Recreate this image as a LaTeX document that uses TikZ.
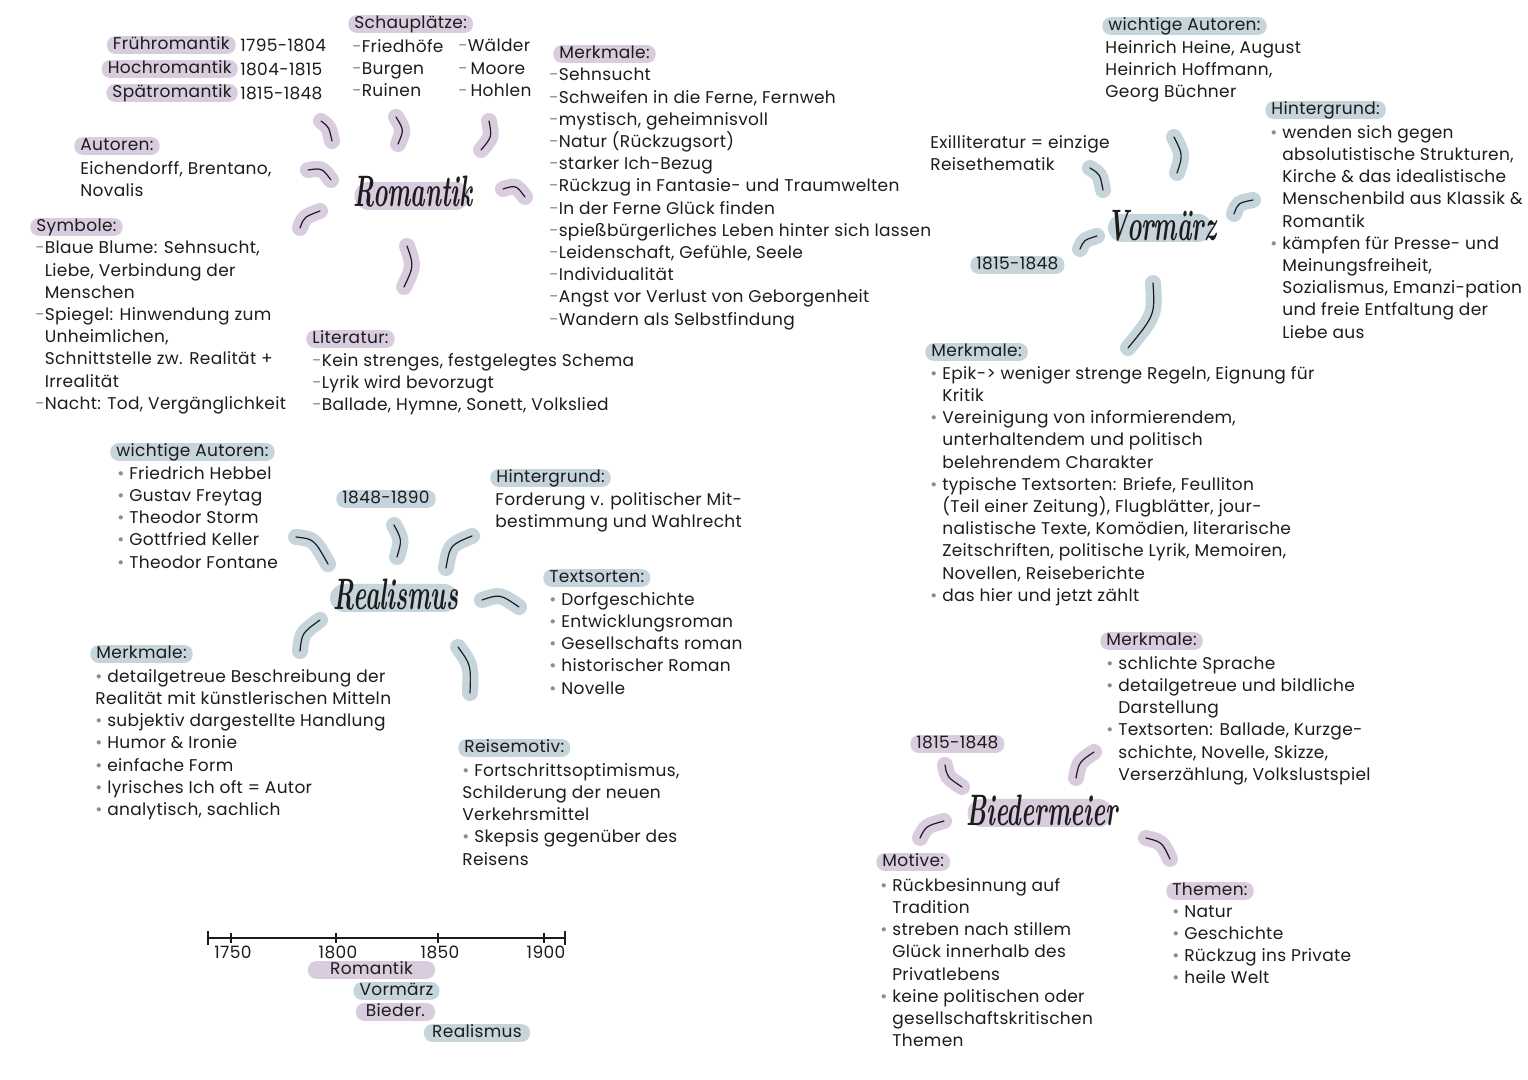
\documentclass[tikz,border=0pt]{standalone}
\usepackage{fontspec}
\usepackage{graphicx}
\usepackage{tikz}
\usetikzlibrary{positioning, calc}

\newfontfamily\hand{Poppins}[LetterSpace=2]
\definecolor{rpurple}{RGB}{218,204,223}
\definecolor{rblue}{RGB}{198,212,219}
\definecolor{ink}{RGB}{28,28,28}
\definecolor{bul}{RGB}{140,140,140}

\newcommand{\hfs}{\hand\fontsize{8.5}{11.1}\selectfont}
\newcommand{\dsh}{{\color{bul}-}}
\newcommand{\bp}{{\color{bul}\textbullet}\ }
\newcommand{\din}{\phantom{-}}
\newcommand{\bin}{\phantom{\textbullet\ }}
\newcommand{\epoch}[1]{\scalebox{0.56}[1]{\bfseries\itshape\fontsize{22}{22}\selectfont #1}}

\begin{document}
\begin{tikzpicture}[
    x=0.5pt, y=-0.5pt,
    txt/.style={
        font=\hfs,
        text=ink,
        inner sep=0pt,
        align=left,
        anchor=north west
    },
    labP/.style={
        fill=rpurple,
        rounded corners=4pt,
        font=\hfs,
        text=ink,
        inner xsep=3pt,
        inner ysep=0.5pt,
        text height=6.2pt,
        text depth=1.6pt,
        anchor=west
    },
    labB/.style={labP, fill=rblue},
    ttl/.style={text=ink, inner sep=0pt},
    pill/.style={fill=#1, rounded corners=7pt, inner sep=0pt, minimum height=14pt},
    spoke/.style={
        draw=ink,
        line width=0.6pt,
        line cap=round,
        preaction={draw=#1, line width=8pt, line cap=round}
    }
]
\useasboundingbox[fill=white] (0,0) rectangle (1528,1080);

% ---------- Romantik
\node[pill=rpurple, minimum width=57.5pt] (rompill) at (412,196) {};
\node[ttl] (rom) at (413,192) {\epoch{Romantik}};

\node[labP, anchor=east] (fruh) at (236,45) {Frühromantik};
\node[labP, anchor=east] (hoch) at (238,69) {Hochromantik};
\node[labP, anchor=east] (spaet) at (238,93) {Spätromantik};
\node[txt, anchor=west] (fruhj) at (240,45) {1795-1804};
\node[txt, anchor=west] (hochj) at (240,69) {1804-1815};
\node[txt, anchor=west] (spaetj) at (240,93) {1815-1848};

\node[labP] (schau) at (348,24) {Schauplätze:};
\node[txt] (schau1) at (352,39) {\dsh Friedhöfe\\\dsh Burgen\\\dsh Ruinen};
\node[txt] (schau2) at (458,39) {\dsh Wälder\\\dsh\,Moore\\\dsh\,Hohlen};

\node[labP] (rmerk) at (553,54) {Merkmale:};
\node[txt] (rmerkl) at (549,68) {\dsh Sehnsucht\\
    \dsh Schweifen in die Ferne, Fernweh\\
    \dsh mystisch, geheimnisvoll\\
    \dsh Natur (Rückzugsort)\\
    \dsh starker Ich-Bezug\\
    \dsh Rückzug in Fantasie- und Traumwelten\\
    \dsh In der Ferne Glück finden\\
    \dsh spießbürgerliches Leben hinter sich lassen\\
    \dsh Leidenschaft, Gefühle, Seele\\
    \dsh Individualität\\
    \dsh Angst vor Verlust von Geborgenheit\\
    \dsh Wandern als Selbstfindung};

\node[labP] (raut) at (74,146) {Autoren:};
\node[txt] (rautl) at (80,161) {Eichendorff, Brentano,\\Novalis};

\node[labP] (symb) at (30,227) {Symbole:};
\node[txt] (symbl) at (35,241) {\dsh Blaue Blume: Sehnsucht,\\
    \din Liebe, Verbindung der\\
    \din Menschen\\
    \dsh Spiegel: Hinwendung zum\\
    \din Unheimlichen,\\
    \din Schnittstelle zw. Realität +\\
    \din Irrealität\\
    \dsh Nacht: Tod, Vergänglichkeit};

\node[labP] (lit) at (306,339) {Literatur:};
\node[txt] (litl) at (312,353) {\dsh Kein strenges, festgelegtes Schema\\
    \dsh Lyrik wird bevorzugt\\
    \dsh Ballade, Hymne, Sonett, Volkslied};

\draw[spoke=rpurple] (321,121) .. controls (329,127) .. (332,141);
\draw[spoke=rpurple] (396,117) .. controls (404,130) .. (398,144);
\draw[spoke=rpurple] (489,121) .. controls (492,137) .. (481,150);
\draw[spoke=rpurple] (308,170) .. controls (322,168) .. (331,180);
\draw[spoke=rpurple] (300,228) .. controls (304,217) .. (320,211);
\draw[spoke=rpurple] (503,189) .. controls (516,185) .. (525,197);
\draw[spoke=rpurple] (407,246) .. controls (414,266) .. (404,287);

% ---------- Vormaerz
\node[pill=rblue, minimum width=52pt] (vorpill) at (1160,228) {};
\node[ttl] (vor) at (1162,226) {\epoch{Vormärz}};

\node[labB] (vaut) at (1102,26) {wichtige Autoren:};
\node[txt] (vautl) at (1105,40) {Heinrich Heine, August\\Heinrich Hoffmann,\\Georg Büchner};

\node[labB] (vhint) at (1265,110) {Hintergrund:};
\node[txt] (vhintl) at (1270,125) {\bp wenden sich gegen\\
    \bin absolutistische Strukturen,\\
    \bin Kirche \& das idealistische\\
    \bin Menschenbild aus Klassik \&\\
    \bin Romantik\\
    \bp kämpfen für Presse- und\\
    \bin Meinungsfreiheit,\\
    \bin Sozialismus, Emanzi-pation\\
    \bin und freie Entfaltung der\\
    \bin Liebe aus};

\node[txt] (exil) at (930,135) {Exilliteratur = einzige\\Reisethematik};
\node[labB] (vjahr) at (970,265) {1815-1848};

\node[labB] (vmerk) at (925,352) {Merkmale:};
\node[txt] (vmerkl) at (930,366) {\bp Epik-> weniger strenge Regeln, Eignung für\\
    \bin Kritik\\
    \bp Vereinigung von informierendem,\\
    \bin unterhaltendem und politisch\\
    \bin belehrendem Charakter\\
    \bp typische Textsorten: Briefe, Feulliton\\
    \bin (Teil einer Zeitung), Flugblätter, jour-\\
    \bin nalistische Texte, Komödien, literarische\\
    \bin Zeitschriften, politische Lyrik, Memoiren,\\
    \bin Novellen, Reiseberichte\\
    \bp das hier und jetzt zählt};

\draw[spoke=rblue] (1090,168) .. controls (1100,174) .. (1103,190);
\draw[spoke=rblue] (1174,137) .. controls (1183,155) .. (1177,173);
\draw[spoke=rblue] (1234,214) .. controls (1238,203) .. (1253,200);
\draw[spoke=rblue] (1080,249) .. controls (1084,240) .. (1097,236);
\draw[spoke=rblue] (1153,283) .. controls (1155,315) .. (1128,348);

% ---------- Realismus
\node[pill=rblue, minimum width=64pt] (realpill) at (394,598) {};
\node[ttl] (real) at (396,595) {\epoch{Realismus}};

\node[labB] (raut2) at (110,452) {wichtige Autoren:};
\node[txt] (raut2l) at (117,466) {\bp Friedrich Hebbel\\
    \bp Gustav Freytag\\
    \bp Theodor Storm\\
    \bp Gottfried Keller\\
    \bp Theodor Fontane};

\node[labB] (rjahr) at (336,499) {1848-1890};

\node[labB] (rhint) at (490,478) {Hintergrund:};
\node[txt] (rhintl) at (495,492) {Forderung v. politischer Mit-\\bestimmung und Wahlrecht};

\node[labB] (rsort) at (543,578) {Textsorten:};
\node[txt] (rsortl) at (549,592) {\bp Dorfgeschichte\\
    \bp Entwicklungsroman\\
    \bp Gesellschafts roman\\
    \bp historischer Roman\\
    \bp Novelle};

\node[labB] (rmerk2) at (90,654) {Merkmale:};
\node[txt] (rmerk2l) at (95,669) {\bp detailgetreue Beschreibung der\\
    Realität mit künstlerischen Mitteln\\
    \bp subjektiv dargestellte Handlung\\
    \bp Humor \& Ironie\\
    \bp einfache Form\\
    \bp lyrisches Ich oft = Autor\\
    \bp analytisch, sachlich};

\node[labB] (reise) at (458,748) {Reisemotiv:};
\node[txt] (reisel) at (462,763) {\bp Fortschrittsoptimismus,\\
    Schilderung der neuen\\
    Verkehrsmittel\\
    \bp Skepsis gegenüber des\\
    Reisens};

\draw[spoke=rblue] (296,537) .. controls (314,539) .. (328,564);
\draw[spoke=rblue] (394,525) .. controls (402,540) .. (397,557);
\draw[spoke=rblue] (446,568) .. controls (450,545) .. (472,536);
\draw[spoke=rblue] (482,600) .. controls (500,594) .. (519,607);
\draw[spoke=rblue] (300,651) .. controls (302,633) .. (320,620);
\draw[spoke=rblue] (458,647) .. controls (471,665) .. (470,693);

% ---------- Biedermeier
\node[pill=rpurple, minimum width=72.5pt] (biedpill) at (1040,813) {};
\node[ttl] (bied) at (1042,810) {\epoch{Biedermeier}};

\node[labP] (bjahr) at (910,744) {1815-1848};

\node[labP] (bmerk) at (1100,641) {Merkmale:};
\node[txt] (bmerkl) at (1106,656) {\bp schlichte Sprache\\
    \bp detailgetreue und bildliche\\
    \bin Darstellung\\
    \bp Textsorten: Ballade, Kurzge-\\
    \bin schichte, Novelle, Skizze,\\
    \bin Verserzählung, Volkslustspiel};

\node[labP] (bmot) at (876,862) {Motive:};
\node[txt] (bmotl) at (880,878) {\bp Rückbesinnung auf\\
    \bin Tradition\\
    \bp streben nach stillem\\
    \bin Glück innerhalb des\\
    \bin Privatlebens\\
    \bp keine politischen oder\\
    \bin gesellschaftskritischen\\
    \bin Themen};

\node[labP] (bthem) at (1166,891) {Themen:};
\node[txt] (bthewl) at (1172,905) {\bp Natur\\
    \bp Geschichte\\
    \bp Rückzug ins Private\\
    \bp heile Welt};

\draw[spoke=rpurple] (945,765) .. controls (947,777) .. (962,787);
\draw[spoke=rpurple] (1076,778) .. controls (1079,762) .. (1094,752);
\draw[spoke=rpurple] (920,838) .. controls (926,826) .. (944,821);
\draw[spoke=rpurple] (1146,838) .. controls (1162,842) .. (1170,859);

% ---------- Zeitleiste
\coordinate (ax0) at (208,938);
\coordinate (ax1) at (565,938);
\draw[ink, line width=0.6pt] (ax0) -- (ax1);
\draw[ink, line width=0.6pt] (208,931) -- (208,945) (565,931) -- (565,945);
\foreach \x/\yr in {231/1750, 336/1800, 438/1850, 544/1900}{
    \draw[ink, line width=0.6pt] (\x,933) -- (\x,943);
    \node[txt, anchor=north] (y\yr) at (\x+2,946) {\yr};
}
\node[labP, anchor=center, minimum width=63.5pt] (barrom) at (371.5,970) {Romantik};
\node[labB, anchor=center, minimum width=38.5pt] (barvor) at (396.5,991) {Vormärz};
\node[labP, anchor=center, minimum width=39.5pt] (barbied) at (395.5,1012) {Bieder.};
\node[labB, anchor=center, minimum width=53pt] (barreal) at (477,1033) {Realismus};

\end{tikzpicture}
\end{document}
